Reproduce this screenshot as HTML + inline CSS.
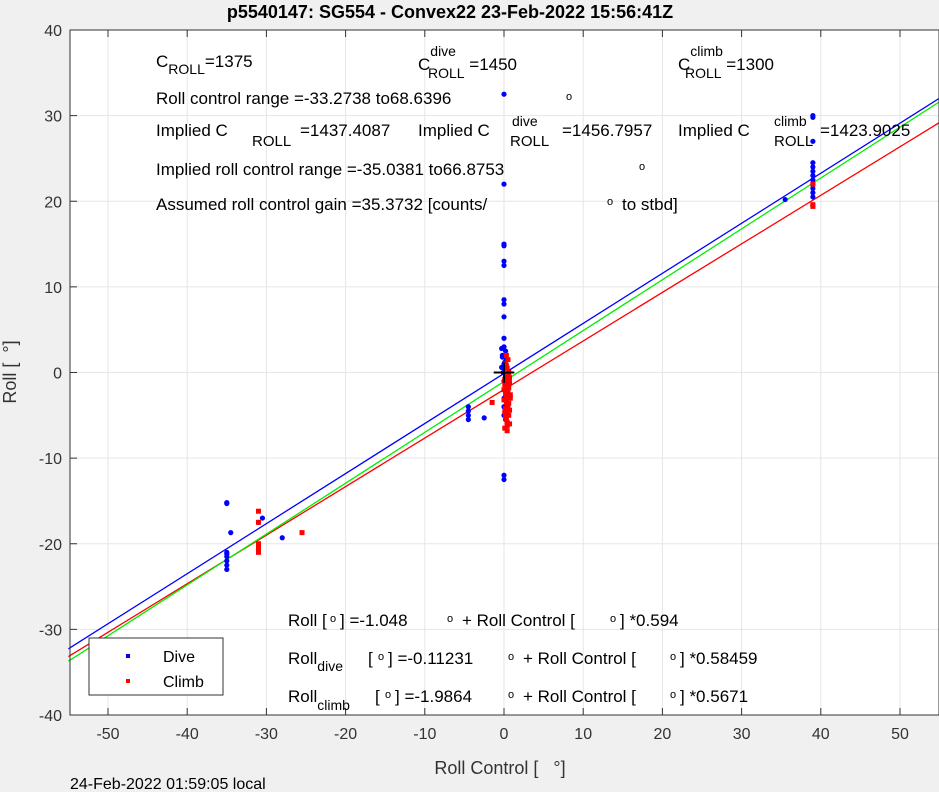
<!DOCTYPE html>
<html><head><meta charset="utf-8"><style>
body{margin:0;background:#f0f0f0;}
svg{display:block;font-family:"Liberation Sans",sans-serif;}
</style></head><body>
<svg id="chart" width="939" height="792">
<rect x="0" y="0" width="939" height="792" fill="#f0f0f0"/>
<rect x="70" y="30" width="869" height="685" fill="#fff"/>
<g id="grid"></g>
<g id="lines"></g>
<g id="pts"></g>
<g id="axes"></g>
<text x="450" y="18" text-anchor="middle" font-weight="bold" font-size="18">p5540147: SG554 - Convex22 23-Feb-2022 15:56:41Z</text>
<g font-size="17" fill="#000">
<text x="156" y="67">C<tspan font-size="14" dy="7">ROLL</tspan><tspan dy="-7">=1375</tspan></text>
<text x="418" y="70">C<tspan font-size="14" dx="0" dy="-14">dive</tspan><tspan font-size="14" dx="-28" dy="22">ROLL</tspan><tspan dy="-8"> =1450</tspan></text>
<text x="678" y="70">C<tspan font-size="14" dy="-14">climb</tspan><tspan font-size="14" dx="-38" dy="22">ROLL</tspan><tspan dy="-8"> =1300</tspan></text>
<text x="156" y="104">Roll control range =-33.2738 to68.6396</text>
<text x="566" y="100" font-size="11">o</text>
<text x="156" y="136">Implied C</text><text x="252" y="146" font-size="15">ROLL</text><text x="300" y="136">=1437.4087</text>
<text x="418" y="136">Implied C</text><text x="512" y="126" font-size="14">dive</text><text x="510" y="146" font-size="15">ROLL</text><text x="562" y="136">=1456.7957</text>
<text x="678" y="136">Implied C</text><text x="774" y="126" font-size="14">climb</text><text x="774" y="146" font-size="15">ROLL</text><text x="820" y="136">=1423.9025</text>
<text x="156" y="175">Implied roll control range =-35.0381 to66.8753</text>
<text x="639" y="170" font-size="11">o</text>
<text x="156" y="210">Assumed roll control gain =35.3732 [counts/</text>
<text x="607" y="205" font-size="11">o</text><text x="622" y="210">to stbd]</text>
<text x="288" y="626">Roll [ </text><text x="330" y="622" font-size="11">o</text><text x="340" y="626">] =-1.048</text><text x="447" y="622" font-size="11">o</text><text x="462" y="626">+ Roll Control [</text><text x="610" y="622" font-size="11">o</text><text x="620" y="626">] *0.594</text>
<text x="288" y="664">Roll<tspan font-size="14" dy="7">dive</tspan></text><text x="368" y="664">[ </text><text x="378" y="660" font-size="11">o</text><text x="388" y="664">] =-0.11231</text><text x="508" y="660" font-size="11">o</text><text x="523" y="664">+ Roll Control [</text><text x="670" y="660" font-size="11">o</text><text x="680" y="664">] *0.58459</text>
<text x="288" y="702">Roll<tspan font-size="14" dy="8">climb</tspan></text><text x="375" y="702">[ </text><text x="385" y="698" font-size="11">o</text><text x="395" y="702">] =-1.9864</text><text x="508" y="698" font-size="11">o</text><text x="523" y="702">+ Roll Control [</text><text x="670" y="698" font-size="11">o</text><text x="680" y="702">] *0.5671</text>
</g>
<g>
<rect x="89" y="638" width="134" height="57" fill="#fff" stroke="#333" stroke-width="1"/>
<rect x="126" y="654" width="4" height="4" fill="#0000ff"/>
<text x="163" y="662" font-size="16">Dive</text>
<rect x="126" y="679" width="4" height="4" fill="#ff0000"/>
<text x="163" y="687" font-size="16">Climb</text>
</g>
<text x="500" y="774" text-anchor="middle" font-size="18" fill="#333">Roll Control [ &#160;&#160;°]</text>
<text transform="translate(16,372) rotate(-90)" text-anchor="middle" font-size="18" fill="#333">Roll [ &#160;°]</text>
<text x="70" y="789" font-size="16">24-Feb-2022 01:59:05 local</text>
</svg>
<script>
const xTicks=[-50,-40,-30,-20,-10,0,10,20,30,40,50];
const yTicks=[-40,-30,-20,-10,0,10,20,30,40];
const diveX=[0,0,0,0,0,0,0,0,0,0,0,-0.3,0.2,-0.2,0.3,0,0.1,-0.1,0,0.2,0,0,0,0,0,-4.5,-4.5,-4.5,-4.5,-2.5,39,39,39,39,39,39,39,39,39,39,39,39,39,35.5,-35,-35,-35,-35,-35,-35,-35,-35,-34.5,-31,-30.5,-28,-0.2,0.1,-0.3,0.2];
const diveY=[32.5,22,15,14.8,13,12.5,8.5,8,6.5,4,3,2.8,2.5,2,1.5,1,0.5,0,-1,-2,-3,-4,-5,-12,-12.5,-4,-4.5,-5,-5.5,-5.3,30,29.8,27,24.5,24,23.5,23,22.5,22,21.5,21,20.5,19.5,20.2,-15.3,-15.2,-21,-21.2,-21.5,-22,-22.5,-23,-18.7,-17.5,-17,-19.3,1.8,1.2,0.6,-5.5];
const climbX=[0.3,0.5,0.2,0.4,0.6,0.3,0.1,0.5,0.4,0.2,0.6,0.3,0.5,0.4,0.2,0.3,0.7,0.1,0.4,0.5,0.3,0.6,0.2,0.4,-1.5,39,39,39,-31,-31,-31,-31,-31,-25.5,0.1,0.7,0.2,0.8,0.0,0.6,0.3,0.7,0.1,0.5,0.8,0.2,0.6,0.0,0.4,0.7,0.3,0.5,0.1,0.6];
const climbY=[2,1.5,1,0.5,0,-0.5,-1,-1.5,-2,-2.5,-3,-3.5,-4,-4.5,-5,-5.5,-6,-6.5,-6.8,-3.8,-2.8,-1.8,-4.2,-5.8,-3.5,19.4,19.6,22,-16.2,-17.5,-20,-20.5,-21,-18.7,-0.8,-1.2,-2.2,-2.6,-3.2,-3.6,-4.8,-4.4,-1.4,-0.2,-3.0,-5.2,-5.0,-2.0,-6.2,-0.6,0.8,-2.4,-4.6,-1.0];
const fitIntercepts=[-0.11231,-1.9864,-1.048];
const fitSlopes=[0.58459,0.5671,0.594];
const fitColors=['#0000ff','#ff0000','#00ee00'];
const fitNames=['fit-line-dive','fit-line-climb','fit-line-all'];
const X0=504,XS=7.92,Y0=372.5,YS=8.5625,L=70,R=939,T=30,B=715;
const sx=v=>X0+v*XS, sy=v=>Y0-v*YS;
const NS='http://www.w3.org/2000/svg';
function mk(p,tag,a){const e=document.createElementNS(NS,tag);for(const k in a)e.setAttribute(k,a[k]);p.appendChild(e);return e;}
const grid=document.getElementById('grid'),axes=document.getElementById('axes');
xTicks.forEach(t=>{const x=sx(t);
 const g=mk(grid,'line',{x1:x,x2:x,y1:T,y2:B,stroke:'#e6e6e6','stroke-width':1});
 
 
 const tx=mk(axes,'text',{x:x,y:B+24,'text-anchor':'middle','font-size':16,fill:'#333'});tx.textContent=t;
 
 
 mk(axes,'line',{x1:x,x2:x,y1:B,y2:B-7,stroke:'#333'});mk(axes,'line',{x1:x,x2:x,y1:T,y2:T+7,stroke:'#333'});});
yTicks.forEach(t=>{const y=sy(t);
 const g=mk(grid,'line',{x1:L,x2:R,y1:y,y2:y,stroke:'#e6e6e6','stroke-width':1});
 
 
 const tx=mk(axes,'text',{x:L-8,y:y+6,'text-anchor':'end','font-size':16,fill:'#333'});tx.textContent=t;
 
 
 mk(axes,'line',{x1:L,x2:L+7,y1:y,y2:y,stroke:'#333'});});
const frame=mk(axes,'rect',{x:L,y:T,width:R-L,height:B-T,fill:'none',stroke:'#333','stroke-width':1});


const lines=document.getElementById('lines');
fitSlopes.forEach((m,i)=>{const b=fitIntercepts[i];
 const ln=mk(lines,'line',{x1:sx(-55),y1:sy(b+m*-55),x2:sx(55),y2:sy(b+m*55),stroke:fitColors[i],'stroke-width':1.3});
 
 });
const pts=document.getElementById('pts');
diveX.forEach((v,i)=>{const c=mk(pts,'circle',{cx:sx(v),cy:sy(diveY[i]),r:2.6,fill:'#0000ff'});
 
 });
climbX.forEach((v,i)=>{const r=mk(pts,'rect',{x:sx(v)-2.5,y:sy(climbY[i])-2.5,width:5,height:5,fill:'#ff0000'});
 
 });
const c1=mk(pts,'line',{x1:sx(-1.3),x2:sx(1.3),y1:sy(0),y2:sy(0),stroke:'#000','stroke-width':2});


const c2=mk(pts,'line',{x1:sx(0),x2:sx(0),y1:sy(-1.2),y2:sy(1.2),stroke:'#000','stroke-width':2});


</script>
</body></html>
